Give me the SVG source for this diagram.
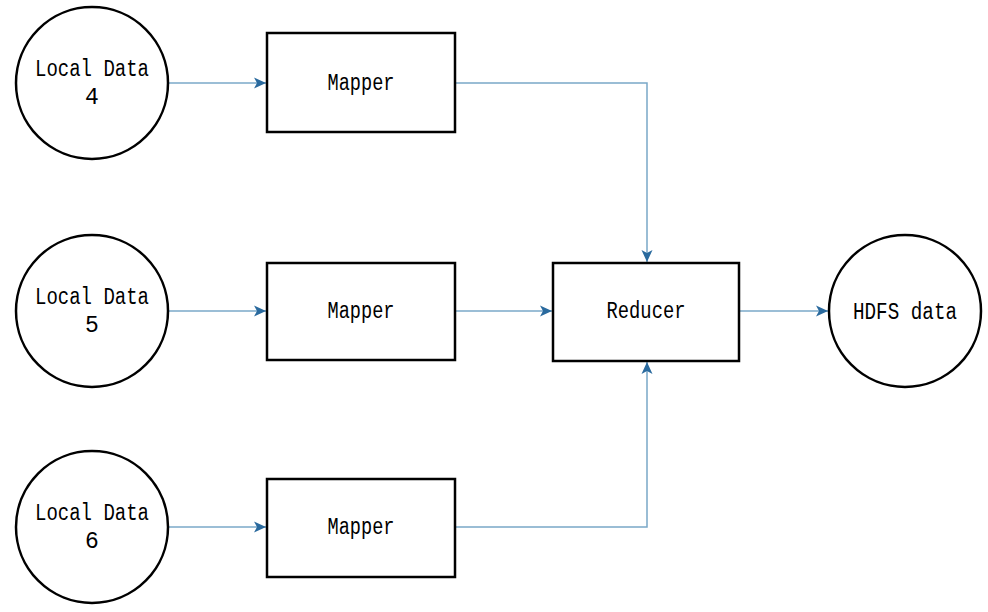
<svg xmlns="http://www.w3.org/2000/svg" width="988" height="612" viewBox="0 0 988 612">
<defs>
<style>
.node{fill:#fff;stroke:#000;stroke-width:2.5}
.lbl{font-family:"Liberation Mono","DejaVu Sans Mono",monospace;font-size:23px;fill:#000;text-anchor:middle}
.edge{fill:none;stroke:#7AA8C8;stroke-width:1.5}
</style>
<marker id="arr" markerUnits="userSpaceOnUse" markerWidth="14" markerHeight="14" viewBox="0 0 14 14" refX="12" refY="7" orient="auto">
<path d="M0,1.5 L12,7 L0,12.5 L3,7 Z" fill="#2A6A9E"/>
</marker>
</defs>
<rect width="988" height="612" fill="#fff"/>
<g id="connectors">
<path class="edge" d="M168,83 H266" marker-end="url(#arr)"/>
<path class="edge" d="M168,311 H266" marker-end="url(#arr)"/>
<path class="edge" d="M168,527 H266" marker-end="url(#arr)"/>
<path class="edge" d="M455,83 H647 V262" marker-end="url(#arr)"/>
<path class="edge" d="M455,311 H552" marker-end="url(#arr)"/>
<path class="edge" d="M455,527 H647 V362" marker-end="url(#arr)"/>
<path class="edge" d="M739,311 H828" marker-end="url(#arr)"/>
</g>
<g id="local4">
<circle class="node" cx="92" cy="83" r="76"/>
<text class="lbl" x="92" y="76" textLength="114" lengthAdjust="spacingAndGlyphs">Local Data</text>
<text class="lbl" x="92" y="104">4</text>
</g>
<g id="local5">
<circle class="node" cx="92" cy="311" r="76"/>
<text class="lbl" x="92" y="304" textLength="114" lengthAdjust="spacingAndGlyphs">Local Data</text>
<text class="lbl" x="92" y="332">5</text>
</g>
<g id="local6">
<circle class="node" cx="92" cy="527" r="76"/>
<text class="lbl" x="92" y="520" textLength="114" lengthAdjust="spacingAndGlyphs">Local Data</text>
<text class="lbl" x="92" y="548">6</text>
</g>
<g id="mapper1">
<rect class="node" x="267" y="33" width="188" height="99"/>
<text class="lbl" x="361" y="90" textLength="67" lengthAdjust="spacingAndGlyphs">Mapper</text>
</g>
<g id="mapper2">
<rect class="node" x="267" y="263" width="188" height="97"/>
<text class="lbl" x="361" y="318" textLength="67" lengthAdjust="spacingAndGlyphs">Mapper</text>
</g>
<g id="mapper3">
<rect class="node" x="267" y="479" width="188" height="98"/>
<text class="lbl" x="361" y="534" textLength="67" lengthAdjust="spacingAndGlyphs">Mapper</text>
</g>
<g id="reducer">
<rect class="node" x="553" y="263" width="186" height="98"/>
<text class="lbl" x="646" y="318" textLength="79" lengthAdjust="spacingAndGlyphs">Reducer</text>
</g>
<g id="hdfs">
<circle class="node" cx="905" cy="311" r="76"/>
<text class="lbl" x="905" y="319" textLength="104" lengthAdjust="spacingAndGlyphs">HDFS data</text>
</g>
</svg>
